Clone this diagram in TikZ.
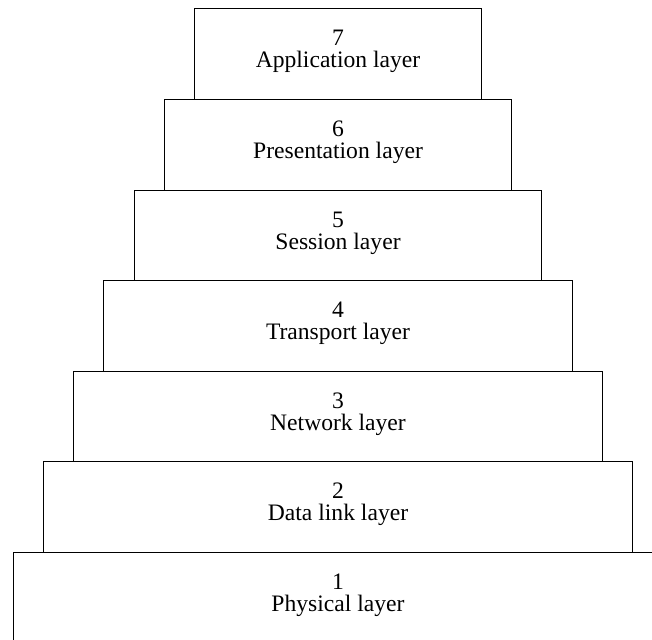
\documentclass[tikz,border=0pt]{standalone}
\usepackage{fontspec}
\setmainfont{Liberation Serif}

\begin{document}
\begin{tikzpicture}[x=0.5pt, y=0.5pt, line width=0.5pt,
		every node/.style={font=\fontsize{11.8}{11}\selectfont},
		layer/.style={draw, rectangle, align=center, inner sep=0pt, text depth=5pt, minimum height=45.3pt}]
	% 画布范围
	\useasboundingbox (0,0) rectangle (652,639);
	\clip (0,0) rectangle (652,639);
	
	% 各层（自下而上）
	\node[layer, minimum width=325pt] (L1) at (338, 41.3) {1\\Physical layer};
	\node[layer, minimum width=294.7pt] (L2) at (338, 131.9) {2\\Data link layer};
	\node[layer, minimum width=264.4pt] (L3) at (338, 222.5) {3\\Network layer};
	\node[layer, minimum width=234.1pt] (L4) at (338, 313.1) {4\\Transport layer};
	\node[layer, minimum width=203.8pt] (L5) at (338, 403.7) {5\\Session layer};
	\node[layer, minimum width=173.5pt] (L6) at (338, 494.3) {6\\Presentation layer};
	\node[layer, minimum width=143.2pt] (L7) at (338, 584.9) {7\\Application layer};
\end{tikzpicture}
\end{document}
